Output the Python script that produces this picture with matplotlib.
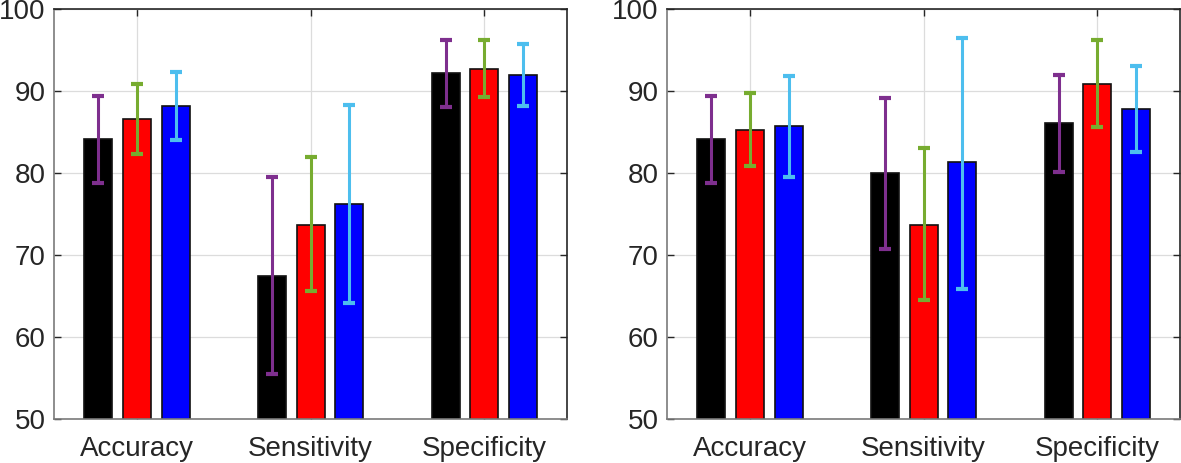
import matplotlib
matplotlib.use('Agg')
import matplotlib.pyplot as plt
import numpy as np

plt.rcParams['font.family'] = ['Liberation Sans', 'DejaVu Sans']

categories = ['Accuracy', 'Sensitivity', 'Specificity']
bar_colors = ['#000000', '#ff0000', '#0000ff']
err_colors = ['#7e2f8e', '#77ac30', '#4dbeee']

# left panel: mean values per series (rows) and category (columns)
left_vals = [[84.1, 67.5, 92.15],
             [86.55, 73.7, 92.7],
             [88.2, 76.25, 91.9]]
left_hi = [[89.35, 79.5, 96.2],
           [90.8, 81.9, 96.2],
           [92.35, 88.25, 95.7]]
left_lo = [[78.8, 55.5, 88.05],
           [82.3, 65.6, 89.3],
           [84.0, 64.2, 88.2]]

# right panel
right_vals = [[84.1, 80.0, 86.1],
              [85.3, 73.7, 90.9],
              [85.7, 81.3, 87.85]]
right_hi = [[89.35, 89.2, 92.0],
            [89.75, 83.1, 96.2],
            [91.8, 96.5, 93.1]]
right_lo = [[78.8, 70.7, 80.1],
            [80.9, 64.5, 85.65],
            [79.55, 65.9, 82.6]]

y_ticks = [50, 60, 70, 80, 90, 100]

fig = plt.figure(figsize=(11.81, 4.63), dpi=100)
ax_l = fig.add_axes([54/1181, 1-419/463, 513/1181, 410/463])
ax_r = fig.add_axes([667/1181, 1-419/463, 513/1181, 410/463])

x = np.arange(1, len(categories) + 1)
offsets = [-0.223, 0.0, 0.223]
width = 0.162

for ax, vals, hi, lo in [(ax_l, left_vals, left_hi, left_lo),
                         (ax_r, right_vals, right_hi, right_lo)]:
    ax.set_axisbelow(True)
    for i in range(3):
        v = np.array(vals[i])
        h = np.array(hi[i])
        l = np.array(lo[i])
        ax.bar(x + offsets[i], v, width=width, color=bar_colors[i],
               edgecolor='#111111', linewidth=1.2, zorder=2)
        ax.errorbar(x + offsets[i], v, yerr=[v - l, h - v], fmt='none',
                    ecolor=err_colors[i], elinewidth=2.2, capsize=4.5,
                    capthick=3, zorder=3)
    ax.set_xlim(0.522, 3.476)
    ax.set_ylim(50, 100)
    ax.set_yticks(y_ticks)
    ax.set_xticks(x)
    ax.set_xticklabels(categories)
    ax.tick_params(axis='both', direction='in', length=5, width=1,
                   top=True, right=True, labelsize=20, colors='#262626',
                   pad=6)
    ax.tick_params(axis='x', pad=12)
    ax.grid(True, color='#dcdcdc', linewidth=0.9)
    for s in ['top', 'right']:
        ax.spines[s].set_color('#262626')
    for s in ['left', 'bottom']:
        ax.spines[s].set_color('#7a7a7a')
    for s in ax.spines.values():
        s.set_linewidth(1.2)

fig.savefig('out.png', dpi=100)
